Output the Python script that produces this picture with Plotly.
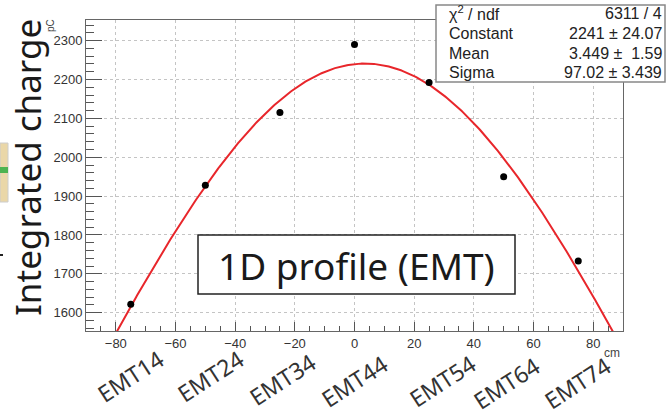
import numpy as np
import plotly.graph_objects as go

# ---- data ----
positions_cm = [-75, -50, -25, 0, 25, 50, 75]
charge_pC = [1622, 1928, 2115, 2290, 2192, 1950, 1733]
emt_labels = ["EMT14", "EMT24", "EMT34", "EMT44", "EMT54", "EMT64", "EMT74"]

# Gaussian fit parameters (from the stats box)
fit_constant = 2241.0
fit_mean = 3.449
fit_sigma = 97.02
stats_names = ["χ<sup>2</sup> / ndf", "Constant", "Mean", "Sigma"]
stats_values = ["6311 / 4", "2241 ± 24.07", "3.449 ±  1.59", "97.02 ± 3.439"]

# ---- layout geometry (pixels) ----
W, H = 666, 417
L, R, T, B = 86, 623, 20, 331


def px(x):
    return (x - L) / (R - L)


def py(y):
    return (B - y) / (B - T)


fit_x = np.linspace(-90, 90, 400)
fit_y = fit_constant * np.exp(-0.5 * ((fit_x - fit_mean) / fit_sigma) ** 2)

fig = go.Figure()
fig.add_trace(go.Scatter(x=fit_x, y=fit_y, mode="lines",
                         line=dict(color="#e8262b", width=2), hoverinfo="skip"))
fig.add_trace(go.Scatter(x=positions_cm, y=charge_pC, mode="markers",
                         marker=dict(color="black", size=7)))

axis_common = dict(
    showline=True, mirror=True, linecolor="#666", linewidth=1,
    ticks="inside", tickcolor="#555", tickwidth=1,
    showgrid=True, gridcolor="#c4c4c4", griddash="dot", gridwidth=1,
    zeroline=False,
    tickfont=dict(family="Liberation Sans, Arial", size=13, color="#333"),
)

fig.update_layout(
    width=W, height=H,
    margin=dict(l=L, r=W - R, t=T, b=H - B),
    paper_bgcolor="white", plot_bgcolor="white",
    showlegend=False,
    xaxis=dict(range=[-90, 90], dtick=20, tick0=0, ticklen=9,
               minor=dict(dtick=5, ticks="inside", ticklen=5, tickcolor="#555", showgrid=False),
               **axis_common),
    yaxis=dict(range=[1553, 2353], dtick=100, tick0=0, ticklen=16,
               minor=dict(dtick=20, ticks="inside", ticklen=8, tickcolor="#555", showgrid=False),
               **axis_common),
)

shapes = []
annotations = []

# Stats box
shapes.append(dict(type="rect", xref="paper", yref="paper", layer="above",
                   x0=px(436), x1=px(665), y0=py(82), y1=py(5),
                   fillcolor="white", line=dict(color="#888", width=1.5)))
for i, (n, v) in enumerate(zip(stats_names, stats_values)):
    yy = 13 + 20 * i
    annotations.append(dict(xref="paper", yref="paper", x=px(447), y=py(yy),
                            xanchor="left", yanchor="middle", text=n, showarrow=False,
                            font=dict(family="Liberation Sans, Arial", size=16, color="#222")))
    annotations.append(dict(xref="paper", yref="paper", x=px(664), y=py(yy),
                            xanchor="right", yanchor="middle", text=v, showarrow=False,
                            font=dict(family="Liberation Sans, Arial", size=16, color="#222")))

# Title box "1D profile (EMT)"
shapes.append(dict(type="rect", xref="paper", yref="paper", layer="above",
                   x0=px(198), x1=px(515), y0=py(294), y1=py(235),
                   fillcolor="white", line=dict(color="#222", width=1.5)))
annotations.append(dict(xref="paper", yref="paper", x=px(356), y=py(265),
                        xanchor="center", yanchor="middle", text="1D profile (EMT)",
                        showarrow=False,
                        font=dict(family="Noto Sans", size=37, color="#1a1a1a")))

# Y axis title
annotations.append(dict(xref="paper", yref="paper", x=px(27), y=py(168),
                        xanchor="center", yanchor="middle", text="Integrated charge",
                        textangle=-90, showarrow=False,
                        font=dict(family="Noto Sans", size=35, color="#1a1a1a")))
# units
annotations.append(dict(xref="paper", yref="paper", x=px(50), y=py(26),
                        xanchor="center", yanchor="middle", text="pC", textangle=-90,
                        showarrow=False,
                        font=dict(family="Liberation Sans, Arial", size=10, color="#444")))
annotations.append(dict(xref="paper", yref="paper", x=px(612), y=py(353),
                        xanchor="center", yanchor="middle", text="cm",
                        showarrow=False,
                        font=dict(family="Liberation Sans, Arial", size=12, color="#444")))

# EMT labels (rotated)
label_dx = [0, 5, 3, 0, 13, 3, -1]
label_y = [376, 376, 379, 381, 381, 383, 383]
for lab, xv, dx, yy in zip(emt_labels, positions_cm, label_dx, label_y):
    annotations.append(dict(xref="x", yref="paper", x=xv, y=py(yy), xshift=dx,
                            xanchor="center", yanchor="middle", text=lab,
                            textangle=-33, showarrow=False, borderpad=0,
                            font=dict(family="Noto Sans", size=23, color="#333")))

# left-edge slide remnant
shapes.append(dict(type="rect", xref="paper", yref="paper", layer="above",
                   x0=px(0), x1=px(8), y0=py(202), y1=py(143),
                   fillcolor="#ead7a8", line=dict(color="#ccc", width=1)))
shapes.append(dict(type="rect", xref="paper", yref="paper", layer="above",
                   x0=px(0), x1=px(8), y0=py(173), y1=py(167),
                   fillcolor="#4db352", line=dict(width=0)))
shapes.append(dict(type="rect", xref="paper", yref="paper", layer="above",
                   x0=px(0), x1=px(3), y0=py(256), y1=py(254),
                   fillcolor="#222", line=dict(width=0)))

fig.update_layout(shapes=shapes, annotations=annotations)
fig.write_html("out.html")
